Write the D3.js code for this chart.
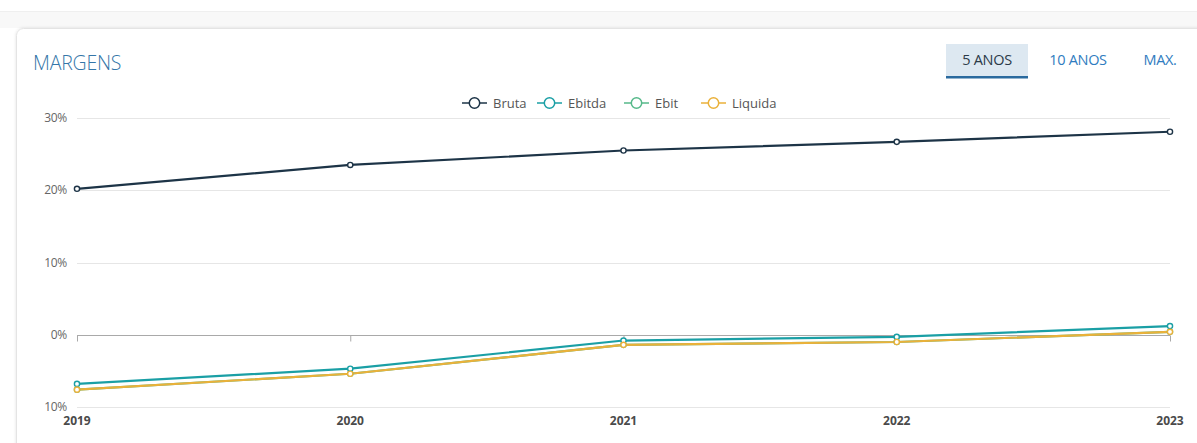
<!DOCTYPE html>
<html>
<head>
<meta charset="utf-8">
<script src="https://cdn.jsdelivr.net/npm/d3@7"></script>
<style>
  html, body { margin: 0; padding: 0; background: #fff; overflow: hidden; }
  svg { display: block; font-family: "Open Sans", "Noto Sans", sans-serif; }
</style>
</head>
<body>
<svg id="chart" width="1197" height="443"></svg>
<script>
// Margin history (%), one value per year
const years = ["2019", "2020", "2021", "2022", "2023"];
const bruta   = [20.2, 23.5, 25.5, 26.7, 28.1];
const ebitda  = [-6.8, -4.7, -0.8, -0.3, 1.2];
const ebit    = [-7.6, -5.4, -1.4, -1.0, 0.4];
const liquida = [-7.6, -5.4, -1.4, -1.0, 0.4];
const yTicks = [30, 20, 10, 0, -10];
const yTickLabels = ["30%", "20%", "10%", "0%", "10%"];
const periods = ["5 ANOS", "10 ANOS", "MAX."];

const series = [
  { name: "Bruta",   values: bruta,   color: "#1d3447" },
  { name: "Ebitda",  values: ebitda,  color: "#1a9fa5" },
  { name: "Ebit",    values: ebit,    color: "#56b98a" },
  { name: "Liquida", values: liquida, color: "#eab13a" }
];

const svg = d3.select("#chart");

// page band above the card
svg.append("rect").attr("x", 0).attr("y", 11).attr("width", 1197).attr("height", 17)
  .attr("fill", "#f8f8f8");
svg.append("line").attr("x1", 0).attr("x2", 1197).attr("y1", 11.5).attr("y2", 11.5)
  .attr("stroke", "#efefef");

// card with soft shadow
const defs = svg.append("defs");
const f = defs.append("filter").attr("id", "sh").attr("x", "-5%").attr("y", "-5%")
  .attr("width", "110%").attr("height", "110%");
f.append("feDropShadow").attr("dx", 0).attr("dy", 0).attr("stdDeviation", 1.5)
  .attr("flood-color", "#000").attr("flood-opacity", 0.12);
svg.append("rect").attr("x", 16.5).attr("y", 28.5).attr("width", 1220).attr("height", 460)
  .attr("rx", 7).attr("fill", "#fff").attr("stroke", "#e4e4e4").attr("filter", "url(#sh)");

// title
svg.append("text").attr("x", 33).attr("y", 70).text("MARGENS")
  .attr("font-size", 19.5).attr("font-weight", 300).attr("fill", "#3576a8")
  .attr("letter-spacing", -0.2);

// period selector
const pcx = [987, 1078, 1160];
svg.append("rect").attr("x", 946).attr("y", 44).attr("width", 82).attr("height", 32)
  .attr("fill", "#dde8f1");
svg.append("rect").attr("x", 946).attr("y", 76).attr("width", 82).attr("height", 2.5)
  .attr("fill", "#2a6a9e");
svg.selectAll("text.period").data(periods).join("text")
  .attr("class", "period")
  .attr("x", (d, i) => pcx[i]).attr("y", 65)
  .attr("text-anchor", "middle").attr("font-size", 14.5).attr("letter-spacing", -0.3)
  .attr("fill", (d, i) => i === 0 ? "#2b3a48" : "#2f7cc0")
  .text(d => d);

// plot area
const x = d3.scalePoint().domain(years).range([77, 1170]);
const y = d3.scaleLinear().domain([-10, 30]).range([407, 118]);

// gridlines (zero line drawn separately as the axis)
svg.append("g").selectAll("line").data(yTicks.filter(t => t !== 0)).join("line")
  .attr("x1", 77).attr("x2", 1170)
  .attr("y1", d => Math.round(y(d)) + 0.5).attr("y2", d => Math.round(y(d)) + 0.5)
  .attr("stroke", "#e6e6e6").attr("stroke-width", 1);

// y tick labels
svg.append("g").selectAll("text").data(yTicks).join("text")
  .attr("x", 67).attr("y", d => y(d) + 4)
  .attr("text-anchor", "end").attr("font-size", 12).attr("fill", "#666")
  .attr("letter-spacing", -0.3)
  .text((d, i) => yTickLabels[i]);

// x axis on the zero line
const xAxis = d3.axisBottom(x).tickSize(6).tickFormat("");
const gx = svg.append("g").attr("transform", `translate(0,${Math.round(y(0)) + 0.5})`).call(xAxis);
gx.select(".domain").attr("stroke", "#a9a9a9").attr("d", `M77,0H1170`);
gx.selectAll(".tick line").attr("stroke", "#a9a9a9");

// year labels under the plot
svg.append("g").selectAll("text").data(years).join("text")
  .attr("x", d => x(d)).attr("y", 425)
  .attr("text-anchor", "middle").attr("font-size", 12).attr("font-weight", 700)
  .attr("fill", "#4a4a4a")
  .text(d => d);

// lines and markers
const line = d3.line().x((d, i) => x(years[i])).y(d => y(d));
const drawOrder = [series[0], series[2], series[1], series[3]];
drawOrder.forEach(s => {
  svg.append("path").datum(s.values).attr("d", line)
    .attr("fill", "none").attr("stroke", s.color).attr("stroke-width", 2.2)
    .attr("stroke-linejoin", "round");
});
drawOrder.forEach(s => {
  svg.append("g").selectAll("circle").data(s.values).join("circle")
    .attr("cx", (d, i) => x(years[i])).attr("cy", d => y(d)).attr("r", 2.6)
    .attr("fill", "#fff").attr("stroke", s.color).attr("stroke-width", 1.4);
});

// legend
const legendX = [462, 537, 624, 701];
const lg = svg.append("g").selectAll("g").data(series).join("g")
  .attr("transform", (d, i) => `translate(${legendX[i]},103)`);
lg.append("line").attr("x1", 0).attr("x2", 25).attr("y1", 0).attr("y2", 0)
  .attr("stroke", d => d.color).attr("stroke-width", 1.5);
lg.append("circle").attr("cx", 12.5).attr("cy", 0).attr("r", 5.2)
  .attr("fill", "#fff").attr("stroke", d => d.color).attr("stroke-width", 1.5);
lg.append("text").attr("x", 31).attr("y", 4.5).attr("font-size", 13).attr("fill", "#555")
  .text(d => d.name);
</script>
</body>
</html>
